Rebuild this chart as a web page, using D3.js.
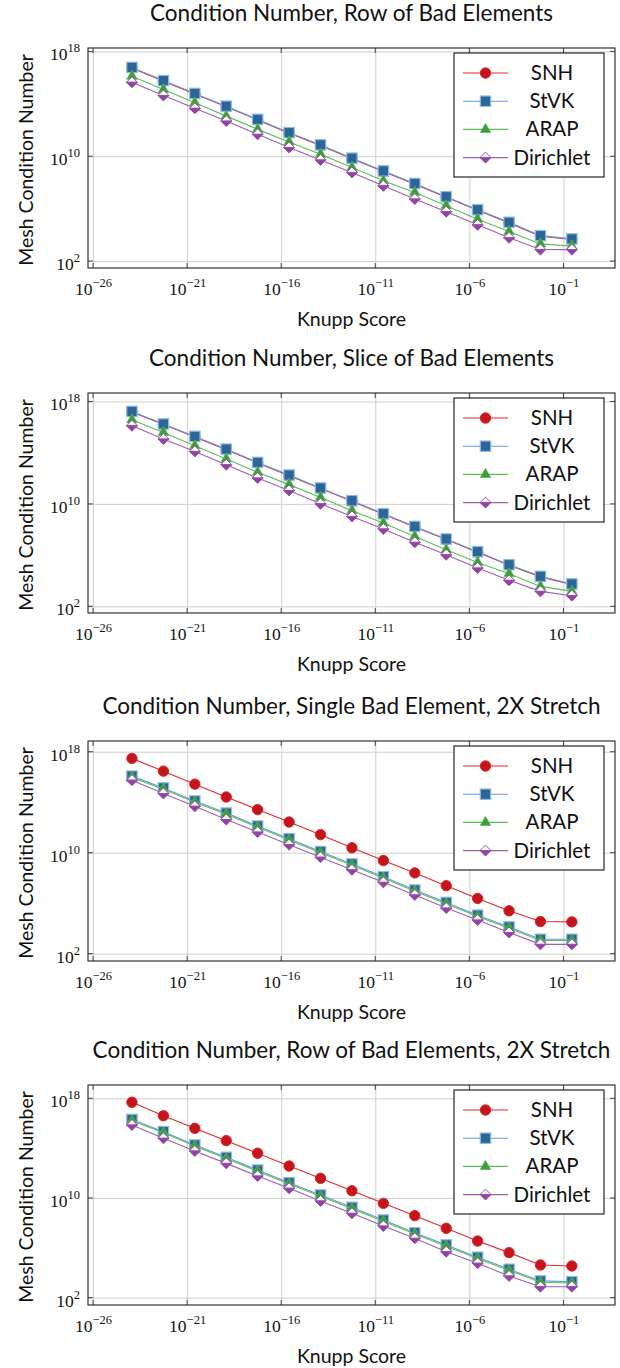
<!DOCTYPE html>
<html>
<head>
<meta charset="utf-8">
<script src="https://cdn.jsdelivr.net/npm/d3@7"></script>
<style>
  html, body { margin: 0; padding: 0; background: #fff; }
  svg { display: block; }
</style>
</head>
<body>
<svg id="chart" width="620" height="1368"></svg>
<script>
// ---------------- DATA ----------------
const seriesNames = ["SNH", "StVK", "ARAP", "Dirichlet"];
const chartTitles = [
  "Condition Number, Row of Bad Elements",
  "Condition Number, Slice of Bad Elements",
  "Condition Number, Single Bad Element, 2X Stretch",
  "Condition Number, Row of Bad Elements, 2X Stretch"
];
const xLabel = "Knupp Score";
const yLabel = "Mesh Condition Number";
const xTickValues = [1e-26, 1e-21, 1e-16, 1e-11, 1e-6, 1e-1];
const yTickValues = [1e2, 1e10, 1e18];

// Knupp score of each sample (shared by all four charts)
const knupp = [1.17e-24, 5.5e-23, 2.57e-21, 1.2e-19, 5.6e-18, 2.63e-16, 1.23e-14,
  5.75e-13, 2.69e-11, 1.26e-9, 5.9e-8, 2.75e-6, 1.29e-4, 6.0e-3, 0.28];

// Chart 1: Row of Bad Elements
const rowSNH = [5.4e16, 5.3e15, 5.6e14, 6.0e13, 5.9e12, 5.7e11, 6.6e10, 6.4e9, 6.8e8, 7.4e7, 7.3e6, 7.5e5, 8.2e4, 7.8e3, 4.4e3];
const rowStVK = [6.0e16, 5.9e15, 6.2e14, 6.6e13, 6.5e12, 6.3e11, 7.4e10, 7.1e9, 7.6e8, 8.3e7, 8.1e6, 8.3e5, 9.1e4, 8.7e3, 4.9e3];
const rowARAP = [1.26e16, 1.23e15, 1.2e14, 1.15e13, 1.12e12, 1.23e11, 1.41e10, 1.38e9, 1.32e8, 1.74e7, 1.66e6, 1.58e5, 1.78e4, 2.04e3, 1.38e3];
const rowDirichlet = [4.4e15, 4.3e14, 4.5e13, 4.8e12, 4.7e11, 4.6e10, 5.2e9, 5.8e8, 5.5e7, 5.4e6, 5.9e5, 5.8e4, 5.9e3, 760, 750];

// Chart 2: Slice of Bad Elements
const sliceSNH = [1.5e17, 1.57e16, 1.67e15, 1.71e14, 1.57e13, 1.6e12, 1.57e11, 1.6e10, 1.53e9, 1.57e8, 1.64e7, 1.67e6, 1.6e5, 2.0e4, 5.0e3];
const sliceStVK = [1.66e17, 1.74e16, 1.86e15, 1.9e14, 1.74e13, 1.78e12, 1.74e11, 1.78e10, 1.7e9, 1.74e8, 1.82e7, 1.86e6, 1.78e5, 2.2e4, 5.6e3];
const sliceARAP = [3.7e16, 3.8e15, 3.5e14, 3.2e13, 2.9e12, 3.2e11, 3.2e10, 2.95e9, 3.2e8, 2.9e7, 2.6e6, 2.7e5, 3.5e4, 3.6e3, 1.48e3];
const sliceDirichlet = [1.26e16, 1.15e15, 1.26e14, 1.15e13, 1.05e12, 1.12e11, 1.02e10, 1.05e9, 1.1e8, 1.0e7, 1.07e6, 9.8e4, 1.07e4, 1.48e3, 680];

// Chart 3: Single Bad Element, 2X Stretch
const singleSNH = [2.95e17, 2.9e16, 2.7e15, 2.6e14, 2.6e13, 2.7e12, 2.7e11, 2.45e10, 2.4e9, 2.5e8, 2.45e7, 2.4e6, 2.5e5, 3.5e4, 3.3e4];
const singleStVK = [1.17e16, 1.35e15, 1.26e14, 1.38e13, 1.29e12, 1.29e11, 1.23e10, 1.29e9, 1.26e8, 1.1e7, 1.15e6, 1.12e5, 1.32e4, 1.38e3, 1.38e3];
const singleARAP = [9.3e15, 1.07e15, 1.0e14, 1.1e13, 1.02e12, 1.02e11, 9.8e9, 1.02e9, 1.0e8, 8.7e6, 9.1e5, 8.9e4, 1.05e4, 1.1e3, 1.1e3];
const singleDirichlet = [5.6e15, 4.9e14, 4.8e13, 4.2e12, 4.3e11, 4.3e10, 4.4e9, 4.4e8, 4.5e7, 4.5e6, 4.1e5, 4.6e4, 4.7e3, 550, 550];

// Chart 4: Row of Bad Elements, 2X Stretch
const row2SNH = [4.8e17, 4.0e16, 3.9e15, 4.0e14, 3.9e13, 3.7e12, 3.8e11, 3.8e10, 3.7e9, 3.8e8, 3.7e7, 3.5e6, 4.1e5, 4.2e4, 3.5e4];
const row2StVK = [2.0e16, 2.1e15, 1.78e14, 1.82e13, 1.74e12, 1.7e11, 1.74e10, 1.78e9, 1.7e8, 1.62e7, 1.7e6, 1.74e5, 1.9e4, 2.2e3, 1.9e3];
const row2ARAP = [1.6e16, 1.7e15, 1.4e14, 1.45e13, 1.4e12, 1.35e11, 1.4e10, 1.4e9, 1.35e8, 1.3e7, 1.35e6, 1.4e5, 1.5e4, 1.7e3, 1.5e3];
const row2Dirichlet = [7.2e15, 6.2e14, 5.9e13, 6.0e12, 5.8e11, 6.0e10, 5.8e9, 5.9e8, 5.6e7, 5.8e6, 4.9e5, 5.8e4, 5.5e3, 760, 760];

// axis extents (pgfplots auto-enlarged limits)
const xDomain = [5.4e-27, 55];
const yDomains = [[29.5, 1.82e18], [30.2, 4.57e18], [26.3, 7.08e18], [25.7, 1.17e19]];

// ---------------- STYLE / LAYOUT ----------------
const charts = [
  [rowSNH, rowStVK, rowARAP, rowDirichlet],
  [sliceSNH, sliceStVK, sliceARAP, sliceDirichlet],
  [singleSNH, singleStVK, singleARAP, singleDirichlet],
  [row2SNH, row2StVK, row2ARAP, row2Dirichlet]
];
const boxTops = [48, 393, 741, 1085];
const boxH = 220;
const boxL = 88, boxR = 615;
const SANS = "Lato, 'Open Sans', sans-serif";
const SERIF = "'Liberation Serif', 'DejaVu Serif', serif";

const styles = {
  SNH: { line: "#e8262b", fill: "#c4151c", stroke: "#d9262b", mark: "circle" },
  StVK: { line: "#5d9bd3", fill: "#2c6597", stroke: "#8ebbe3", mark: "square" },
  ARAP: { line: "#5bbf57", fill: "#3d9c3b", stroke: "#56b552", mark: "triangle" },
  Dirichlet: { line: "#a35db0", fill: "#8e44a0", stroke: "#9b52ab", mark: "halfdiamond" }
};

const svg = d3.select("#chart");

function drawMarker(g, name, cx, cy) {
  const s = styles[name];
  if (s.mark === "circle") {
    g.append("circle").attr("cx", cx).attr("cy", cy).attr("r", 5.2)
      .attr("fill", s.fill).attr("stroke", s.stroke).attr("stroke-width", 1);
  } else if (s.mark === "square") {
    g.append("rect").attr("x", cx - 5.2).attr("y", cy - 5.2).attr("width", 10.4).attr("height", 10.4)
      .attr("fill", s.fill).attr("stroke", s.stroke).attr("stroke-width", 1.2);
  } else if (s.mark === "triangle") {
    const r = 6;
    g.append("path")
      .attr("d", `M${cx},${cy - r} L${cx + r * 0.866},${cy + r * 0.5} L${cx - r * 0.866},${cy + r * 0.5} Z`)
      .attr("fill", s.fill).attr("stroke", s.stroke).attr("stroke-width", 0.8);
  } else {
    const r = 5.5;
    g.append("path")
      .attr("d", `M${cx},${cy - r} L${cx + r},${cy} L${cx - r},${cy} Z`)
      .attr("fill", "#fff").attr("stroke", s.stroke).attr("stroke-width", 1);
    g.append("path")
      .attr("d", `M${cx - r},${cy} L${cx + r},${cy} L${cx},${cy + r} Z`)
      .attr("fill", s.fill).attr("stroke", s.stroke).attr("stroke-width", 1);
  }
}

function expLabel(textSel, v, bigSize, smallSize, rise) {
  const e = Math.round(Math.log10(v));
  textSel.text(null);
  textSel.append("tspan").attr("font-size", bigSize).text("10");
  textSel.append("tspan").attr("font-size", smallSize).attr("dy", -rise)
    .text(e < 0 ? "\u2212" + (-e) : String(e));
}

charts.forEach((series, ci) => {
  const top = boxTops[ci], bottom = top + boxH;
  const x = d3.scaleLog().domain(xDomain).range([boxL, boxR]);
  const y = d3.scaleLog().domain(yDomains[ci]).range([bottom, top]);
  const g = svg.append("g");

  // grid
  const gridX = g.append("g").attr("transform", `translate(0,${bottom})`)
    .call(d3.axisBottom(x).tickValues(xTickValues).tickSize(-boxH).tickFormat(""));
  gridX.select(".domain").remove();
  gridX.selectAll("line").attr("stroke", "#cfcfcf").attr("stroke-width", 1);
  const gridY = g.append("g").attr("transform", `translate(${boxL},0)`)
    .call(d3.axisLeft(y).tickValues(yTickValues).tickSize(-(boxR - boxL)).tickFormat(""));
  gridY.select(".domain").remove();
  gridY.selectAll("line").attr("stroke", "#cfcfcf").attr("stroke-width", 1);

  // inner ticks on all sides
  const tl = 5;
  const tk = g.append("g").attr("stroke", "#444").attr("stroke-width", 1);
  xTickValues.forEach(v => {
    tk.append("line").attr("x1", x(v)).attr("x2", x(v)).attr("y1", bottom).attr("y2", bottom - tl);
    tk.append("line").attr("x1", x(v)).attr("x2", x(v)).attr("y1", top).attr("y2", top + tl);
  });
  yTickValues.forEach(v => {
    tk.append("line").attr("x1", boxL).attr("x2", boxL + tl).attr("y1", y(v)).attr("y2", y(v));
    tk.append("line").attr("x1", boxR).attr("x2", boxR - tl).attr("y1", y(v)).attr("y2", y(v));
  });

  // tick labels
  const ax = g.append("g").attr("transform", `translate(0,${bottom})`)
    .call(d3.axisBottom(x).tickValues(xTickValues).tickSize(0));
  ax.select(".domain").remove();
  ax.selectAll(".tick text").attr("y", 26.5).attr("dy", null)
    .attr("font-family", SERIF).attr("fill", "#111")
    .each(function (d) { expLabel(d3.select(this), d, 17.5, 12.5, 8); });
  const ay = g.append("g").attr("transform", `translate(${boxL},0)`)
    .call(d3.axisLeft(y).tickValues(yTickValues).tickSize(0));
  ay.select(".domain").remove();
  ay.selectAll(".tick text").attr("x", -8).attr("y", 8.5).attr("dy", null)
    .attr("font-family", SERIF).attr("fill", "#111").attr("text-anchor", "end")
    .each(function (d) { expLabel(d3.select(this), d, 17.5, 12.5, 8); });

  // series
  const line = d3.line().x((d, i) => x(knupp[i])).y(d => y(d));
  series.forEach((vals, si) => {
    const name = seriesNames[si];
    g.append("path").datum(vals).attr("d", line)
      .attr("fill", "none").attr("stroke", styles[name].line).attr("stroke-width", 1.1);
    const mg = g.append("g");
    vals.forEach((v, i) => drawMarker(mg, name, x(knupp[i]), y(v)));
  });

  // axis box
  g.append("rect").attr("x", boxL).attr("y", top).attr("width", boxR - boxL).attr("height", boxH)
    .attr("fill", "none").attr("stroke", "#222").attr("stroke-width", 1.1);

  // legend
  const lgX = 454, lgY = top + 5, lgW = 150, lgH = 124;
  const lg = g.append("g");
  lg.append("rect").attr("x", lgX).attr("y", lgY).attr("width", lgW).attr("height", lgH)
    .attr("fill", "#fff").attr("stroke", "#111").attr("stroke-width", 1.1);
  seriesNames.forEach((name, i) => {
    const ly = lgY + 20 + i * 28.2;
    lg.append("line").attr("x1", lgX + 9).attr("x2", lgX + 54).attr("y1", ly).attr("y2", ly)
      .attr("stroke", styles[name].line).attr("stroke-width", 1.1);
    drawMarker(lg, name, lgX + 31.5, ly);
    lg.append("text").attr("x", lgX + 98).attr("y", ly + 7).attr("text-anchor", "middle")
      .attr("font-family", SANS).attr("font-size", 20.5).attr("fill", "#111").text(name);
  });

  // titles / labels
  g.append("text").attr("x", (boxL + boxR) / 2).attr("y", top - 27)
    .attr("text-anchor", "middle").attr("font-family", SANS).attr("font-size", 22.5).attr("fill", "#111")
    .text(chartTitles[ci]);
  g.append("text").attr("x", (boxL + boxR) / 2).attr("y", bottom + 58)
    .attr("text-anchor", "middle").attr("font-family", SANS).attr("font-size", 19.5).attr("fill", "#111")
    .text(xLabel);
  g.append("text").attr("transform", `translate(33,${top + boxH / 2 + 2}) rotate(-90)`)
    .attr("text-anchor", "middle").attr("font-family", SANS).attr("font-size", 19.5).attr("fill", "#111")
    .text(yLabel);
});
</script>
</body>
</html>
